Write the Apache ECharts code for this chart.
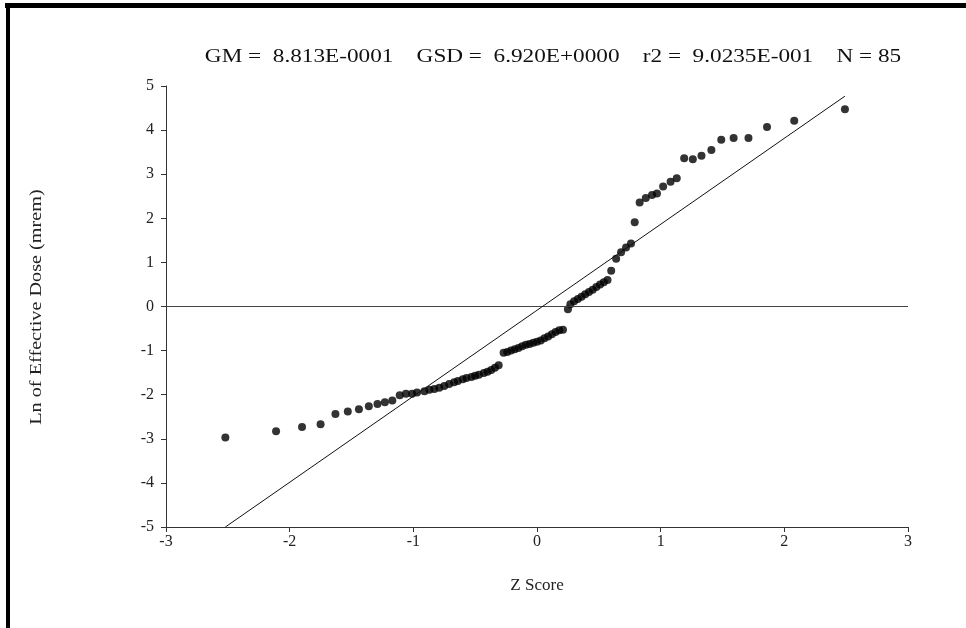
<!DOCTYPE html>
<html>
<head>
<meta charset="utf-8">
<script src="https://cdn.jsdelivr.net/npm/echarts@6/dist/echarts.min.js"></script>
<style>
html,body{margin:0;padding:0;background:#fff;}
#chart{width:966px;height:628px;}
</style>
</head>
<body>
<div id="chart"></div>
<script>
// Z scores (x) and Ln of effective dose (y)
const zScores = [
  -2.52, -2.11, -1.90, -1.75, -1.63, -1.53, -1.44, -1.36, -1.29, -1.23,
  -1.17, -1.11, -1.06, -1.01, -0.97, -0.91, -0.87, -0.83, -0.79, -0.75,
  -0.71, -0.67, -0.64, -0.60, -0.57, -0.53, -0.50, -0.47, -0.43, -0.40,
  -0.37, -0.34, -0.31, -0.27, -0.24, -0.21, -0.18, -0.15, -0.12, -0.09,
  -0.06, -0.03, 0.00, 0.03, 0.06, 0.09, 0.12, 0.15, 0.18, 0.21,
  0.25, 0.27, 0.30, 0.33, 0.36, 0.39, 0.42, 0.45, 0.48, 0.51,
  0.54, 0.57, 0.60, 0.64, 0.68, 0.72, 0.76, 0.79, 0.83, 0.88,
  0.93, 0.97, 1.02, 1.08, 1.13, 1.19, 1.26, 1.33, 1.41, 1.49,
  1.59, 1.71, 1.86, 2.08, 2.49
];
const lnDose = [
  -2.97, -2.83, -2.73, -2.67, -2.44, -2.38, -2.33, -2.26, -2.21, -2.17,
  -2.13, -2.01, -1.98, -1.98, -1.95, -1.92, -1.89, -1.87, -1.84, -1.80,
  -1.76, -1.72, -1.69, -1.65, -1.62, -1.60, -1.57, -1.55, -1.51, -1.48,
  -1.44, -1.39, -1.33, -1.05, -1.03, -1.00, -0.97, -0.94, -0.90, -0.87,
  -0.85, -0.82, -0.80, -0.77, -0.72, -0.68, -0.63, -0.58, -0.54, -0.53,
  -0.06, 0.05, 0.12, 0.17, 0.22, 0.28, 0.33, 0.38, 0.44, 0.50,
  0.55, 0.60, 0.81, 1.08, 1.23, 1.34, 1.43, 1.91, 2.36, 2.46,
  2.53, 2.56, 2.72, 2.83, 2.91, 3.36, 3.34, 3.42, 3.55, 3.78,
  3.82, 3.82, 4.07, 4.21, 4.47
];
// fitted line ends (z, ln dose)
const fitLine = [[-2.52, -5.0], [2.49, 4.77]];
const zeroLine = [[-3, 0], [3, 0]];
const xTicks = [-3, -2, -1, 0, 1, 2, 3];
const yTicks = [-5, -4, -3, -2, -1, 0, 1, 2, 3, 4, 5];
const titleText = 'GM =  8.813E-0001    GSD =  6.920E+0000    r2 =  9.0235E-001    N = 85';
const yName = 'Ln of Effective Dose (mrem)';
const xName = 'Z Score';

const points = zScores.map((z, i) => [z, lnDose[i]]);
const serif = '"Liberation Serif", "DejaVu Serif", serif';

const chart = echarts.init(document.getElementById('chart'), null, {renderer: 'canvas'});
chart.setOption({
  animation: false,
  backgroundColor: '#fff',
  graphic: [
    {type: 'rect', shape: {x: 5, y: 3, width: 961, height: 5}, style: {fill: '#000'}, silent: true},
    {type: 'rect', shape: {x: 6, y: 3, width: 4, height: 625}, style: {fill: '#000'}, silent: true},
    {
      type: 'text', x: 553, y: 57, scaleX: 1.29,
      style: {text: titleText, fontFamily: serif, fontSize: 18, fill: '#111',
              align: 'center', verticalAlign: 'middle'}
    },
    {
      type: 'text', x: 37, y: 307, rotation: Math.PI / 2, scaleX: 1.19,
      style: {text: yName, fontFamily: serif, fontSize: 17, fill: '#222',
              align: 'center', verticalAlign: 'middle'}
    }
  ],
  grid: {left: 166, right: 58, top: 86, bottom: 101, containLabel: false},
  xAxis: {
    type: 'value', min: xTicks[0], max: xTicks[xTicks.length - 1], interval: 1,
    name: xName, nameLocation: 'middle', nameGap: 50,
    nameTextStyle: {fontFamily: serif, fontSize: 17, color: '#222'},
    axisLine: {onZero: false, lineStyle: {color: '#333', width: 1}},
    axisTick: {show: true, length: 5, lineStyle: {color: '#333'}},
    axisLabel: {fontFamily: serif, fontSize: 16, color: '#222', margin: 7},
    splitLine: {show: false}
  },
  yAxis: {
    type: 'value', min: yTicks[0], max: yTicks[yTicks.length - 1], interval: 1,
    axisLine: {onZero: false, lineStyle: {color: '#333', width: 1}},
    axisTick: {show: true, length: 5, lineStyle: {color: '#333'}},
    axisLabel: {fontFamily: serif, fontSize: 16, color: '#222', margin: 12},
    splitLine: {show: false}
  },
  series: [
    {
      type: 'line', data: zeroLine, symbol: 'none', silent: true,
      lineStyle: {color: '#444', width: 1.2}
    },
    {
      type: 'line', data: fitLine, symbol: 'none', silent: true,
      lineStyle: {color: '#111', width: 1}
    },
    {
      type: 'scatter', data: points, symbol: 'circle', symbolSize: 8,
      itemStyle: {color: '#000'}
    }
  ]
});
</script>
</body>
</html>
